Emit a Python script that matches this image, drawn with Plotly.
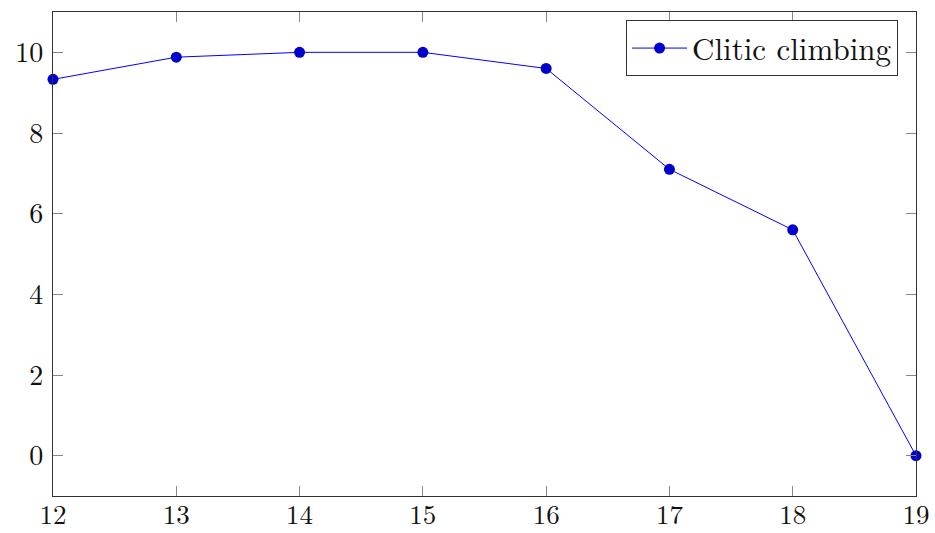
import plotly.graph_objects as go

x_values = [12, 13, 14, 15, 16, 17, 18, 19]
y_values = [9.33, 9.88, 10.0, 10.0, 9.6, 7.1, 5.6, 0.0]
series_name = "Clitic climbing"
x_ticks = [12, 13, 14, 15, 16, 17, 18, 19]
y_ticks = [0, 2, 4, 6, 8, 10]

fig = go.Figure()
fig.add_trace(go.Scatter(
    x=x_values, y=y_values, name=series_name, mode="lines+markers",
    line=dict(color="#0000ff", width=1),
    marker=dict(color="#0000cc", size=11, line=dict(color="#0000cc", width=0)),
    cliponaxis=False,
))

font_family = "Latin Modern Roman, CMU Serif, Liberation Serif, serif"
axis_common = dict(
    showgrid=False, zeroline=False, showline=True, linecolor="#333333", linewidth=1.2,
    mirror="ticks", ticks="inside", ticklen=10, tickcolor="#888888", tickwidth=1,
    automargin=False,
)
fig.update_xaxes(range=[12, 19], tickvals=x_ticks, ticklabelstandoff=-6,
                 tickfont=dict(family=font_family, size=27, color="#111111"), **axis_common)
fig.update_yaxes(range=[-1, 11], tickvals=y_ticks, ticklabelstandoff=3,
                 tickfont=dict(family=font_family, size=28, color="#111111"), **axis_common)

fig.update_layout(
    width=935, height=533,
    margin=dict(l=53, r=19, t=12, b=37),
    plot_bgcolor="white", paper_bgcolor="white",
    showlegend=True,
    legend=dict(
        x=0.979, y=0.983, xanchor="right", yanchor="top",
        bgcolor="white", bordercolor="#333333", borderwidth=1.2,
        font=dict(family=font_family, size=31, color="#111111"),
        itemwidth=55,
    ),
)

fig.write_html(
    "out.html",
    config={"displayModeBar": False},
    post_script="document.body.style.margin='0px';document.body.style.overflow='hidden';",
)
